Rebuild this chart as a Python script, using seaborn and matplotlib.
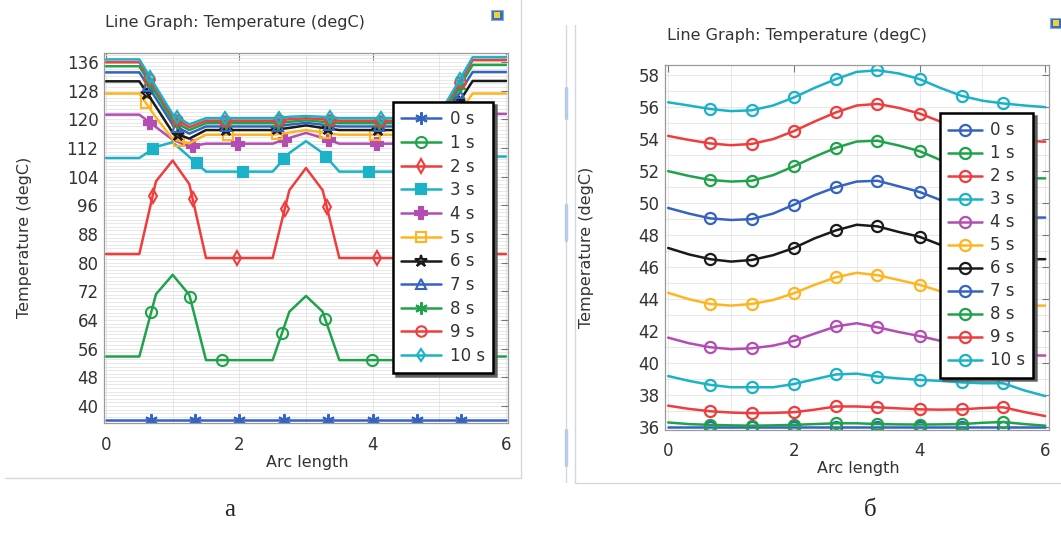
import numpy as np
import matplotlib
matplotlib.use('Agg')
import matplotlib.pyplot as plt
from matplotlib.lines import Line2D
from matplotlib.patches import Rectangle
from matplotlib.ticker import MultipleLocator
import seaborn as sns

sns.set_style('white')
plt.rcParams['font.family'] = ['DejaVu Sans']

labels = ['0 s', '1 s', '2 s', '3 s', '4 s', '5 s', '6 s', '7 s', '8 s', '9 s', '10 s']
colors = ['#3563c2', '#1fa34a', '#f03c3c', '#1ab2c6', '#b34db3', '#ffb51f', '#1a1a1a',
          '#3563c2', '#1fa34a', '#f03c3c', '#1ab2c6']

# ---- panel a: line vertices along arc length
xa = [0, 0.5, 0.75, 1.0, 1.25, 1.5, 2.5, 2.75, 3.0, 3.25, 3.5, 4.5, 4.75, 5.0, 5.25, 5.5, 6.0]
ta_0 = [36.0] * 17
ta_1 = [53.8, 53.8, 71.2, 76.6, 71.0, 52.8, 52.8, 66.3, 70.7, 66.3, 52.8, 52.8, 71.0, 76.6, 71.2, 53.8, 53.8]
ta_2 = [82.4, 82.4, 102.7, 108.5, 101.9, 81.3, 81.3, 100.2, 106.4, 100.2, 81.3, 81.3, 101.9, 108.5, 102.7, 82.4, 82.4]
ta_3 = [109.2, 109.2, 112.3, 113.6, 109.5, 105.4, 105.4, 110.6, 113.9, 110.6, 105.4, 105.4, 109.5, 113.6, 112.3, 109.6, 109.6]
ta_4 = [121.3, 121.3, 117.8, 114.3, 112.4, 113.2, 113.2, 114.8, 116.2, 114.8, 113.2, 113.2, 112.4, 114.4, 118.0, 121.5, 121.5]
ta_5 = [127.2, 127.2, 120.5, 114.5, 113.3, 115.7, 115.7, 116.3, 117.0, 116.3, 115.7, 115.7, 113.3, 114.5, 120.5, 127.2, 127.2]
ta_6 = [130.6, 130.6, 123.5, 116.3, 114.6, 117.0, 117.0, 117.6, 118.3, 117.6, 117.0, 117.0, 114.6, 116.3, 123.5, 130.7, 130.7]
ta_7 = [133.1, 133.1, 125.8, 118.5, 116.0, 118.0, 118.0, 118.5, 119.0, 118.5, 118.0, 118.0, 116.0, 118.5, 125.8, 133.2, 133.2]
ta_8 = [134.8, 134.8, 127.2, 119.6, 117.0, 118.9, 118.9, 119.3, 119.7, 119.3, 118.9, 118.9, 117.0, 119.6, 127.4, 135.2, 135.2]
ta_9 = [135.9, 135.9, 128.3, 120.6, 117.8, 119.6, 119.6, 120.0, 120.3, 120.0, 119.6, 119.6, 117.8, 120.6, 128.5, 136.5, 136.5]
ta_10 = [136.7, 136.7, 129.0, 121.4, 118.6, 120.3, 120.3, 120.7, 120.9, 120.7, 120.3, 120.3, 118.6, 121.4, 129.3, 137.3, 137.3]

# marker positions (arc length)
ma_0 = [0.67, 1.33, 2.0, 2.67, 3.33, 4.0, 4.67, 5.33]
ma_1 = [0.68, 1.26, 1.74, 2.64, 3.29, 3.99, 4.72, 5.3]
ma_2 = [0.7, 1.3, 1.96, 2.68, 3.31, 4.06, 4.7, 5.3]
ma_3 = [0.71, 1.36, 2.05, 2.67, 3.3, 3.94, 4.64, 5.3]
ma_4 = [0.66, 1.3, 1.98, 2.68, 3.35, 4.07, 4.7, 5.34]
ma_5 = [0.6, 1.1, 1.83, 2.56, 3.29, 4.04, 4.9, 5.32]
ma_6 = [0.62, 1.08, 1.8, 2.57, 3.33, 4.08, 4.92, 5.3]
ma_7 = [0.63, 1.07, 1.8, 2.58, 3.34, 4.1, 4.93, 5.3]
ma_8 = [0.64, 1.06, 1.8, 2.58, 3.35, 4.1, 4.94, 5.31]
ma_9 = [0.65, 1.06, 1.79, 2.59, 3.36, 4.11, 4.94, 5.31]
ma_10 = [0.66, 1.06, 1.79, 2.59, 3.36, 4.12, 4.94, 5.31]

# ---- panel b
xb = [0, 0.33, 0.67, 1.0, 1.33, 1.67, 2.0, 2.33, 2.67, 3.0, 3.33, 3.67, 4.0, 4.33, 4.67, 5.0, 5.33, 5.67, 6.0]
tb_0 = [36.0] * 19
tb_1 = [36.3, 36.2, 36.15, 36.12, 36.1, 36.12, 36.15, 36.2, 36.25, 36.25, 36.2, 36.18, 36.17, 36.18, 36.2, 36.28, 36.33, 36.2, 36.1]
tb_2 = [37.35, 37.15, 37.0, 36.92, 36.88, 36.9, 36.94, 37.1, 37.3, 37.3, 37.25, 37.18, 37.12, 37.1, 37.12, 37.2, 37.25, 36.95, 36.7]
tb_3 = [39.2, 38.9, 38.65, 38.5, 38.5, 38.5, 38.7, 39.0, 39.3, 39.35, 39.17, 39.05, 38.96, 38.9, 38.8, 38.75, 38.75, 38.3, 37.95]
tb_4 = [41.6, 41.25, 41.0, 40.88, 40.93, 41.1, 41.4, 41.85, 42.3, 42.5, 42.25, 41.95, 41.7, 41.4, 41.0, 40.7, 40.55, 40.5, 40.48]
tb_5 = [44.4, 44.0, 43.7, 43.6, 43.7, 43.95, 44.37, 44.9, 45.37, 45.65, 45.5, 45.2, 44.9, 44.5, 44.1, 43.8, 43.65, 43.6, 43.6]
tb_6 = [47.2, 46.8, 46.5, 46.35, 46.45, 46.75, 47.2, 47.8, 48.3, 48.65, 48.55, 48.2, 47.9, 47.4, 47.0, 46.7, 46.55, 46.5, 46.5]
tb_7 = [49.7, 49.35, 49.05, 48.95, 49.0, 49.35, 49.9, 50.5, 51.0, 51.35, 51.4, 51.05, 50.7, 50.2, 49.7, 49.35, 49.15, 49.1, 49.1]
tb_8 = [52.0, 51.7, 51.45, 51.35, 51.4, 51.75, 52.3, 52.9, 53.46, 53.85, 53.9, 53.6, 53.25, 52.7, 52.2, 51.8, 51.6, 51.55, 51.55]
tb_9 = [54.2, 53.95, 53.73, 53.62, 53.7, 54.0, 54.5, 55.1, 55.67, 56.1, 56.2, 55.95, 55.6, 55.1, 54.6, 54.2, 54.0, 53.9, 53.84]
tb_10 = [56.3, 56.1, 55.88, 55.75, 55.8, 56.1, 56.6, 57.2, 57.75, 58.2, 58.3, 58.1, 57.75, 57.2, 56.7, 56.4, 56.23, 56.1, 56.0]
mb = [0.67, 1.33, 2.0, 2.67, 3.33, 4.0, 4.67, 5.33]

ta = [ta_0, ta_1, ta_2, ta_3, ta_4, ta_5, ta_6, ta_7, ta_8, ta_9, ta_10]
ma = [ma_0, ma_1, ma_2, ma_3, ma_4, ma_5, ma_6, ma_7, ma_8, ma_9, ma_10]
tb = [tb_0, tb_1, tb_2, tb_3, tb_4, tb_5, tb_6, tb_7, tb_8, tb_9, tb_10]

# marker style per series in panel a: (marker, filled, size)
star6 = (6, 2, 0)
marks_a = [(star6, True, 9), ('o', False, 8), ('d', False, 7), ('s', True, 6.5), ('P', True, 8),
           ('s', False, 7), ('*', False, 9), ('^', False, 7), (star6, True, 9), ('o', False, 7.5), ('d', False, 6)]

W, H = 1061, 545
fig = plt.figure(figsize=(W / 100, H / 100), dpi=100)


def fx(px):
    return px / W


def fy(py):
    return 1 - py / H


ax1 = fig.add_axes([fx(104), fy(423), fx(508 - 104), (423 - 53) / H])
ax2 = fig.add_axes([fx(665), fy(430), fx(1049 - 665), (430 - 65) / H])


def style_axes(ax, ystep, xlim, ylim):
    ax.set_xlim(*xlim)
    ax.set_ylim(*ylim)
    ax.xaxis.set_major_locator(MultipleLocator(2))
    ax.xaxis.set_minor_locator(MultipleLocator(1))
    ax.yaxis.set_major_locator(MultipleLocator(ystep))
    ax.yaxis.set_minor_locator(MultipleLocator(1))
    ax.grid(True, which='both', color='#e4e4e4', lw=0.6)
    ax.set_axisbelow(True)
    ax.tick_params(which='major', direction='in', length=5, width=0.8, color='#777777',
                   top=True, right=True, labelsize=12, labelcolor='#333333')
    ax.tick_params(which='minor', length=0)
    ax.tick_params(axis='x', pad=9)
    ax.tick_params(axis='y', pad=4)
    for s in ax.spines.values():
        s.set_color('#9a9a9a')
        s.set_linewidth(0.9)
    ax.set_xlabel('')
    ax.set_ylabel('')


handles_a = []
for i in range(11):
    sns.lineplot(x=xa, y=ta[i], ax=ax1, color=colors[i], lw=1.8, estimator=None, sort=False, legend=False)
    m, filled, ms = marks_a[i]
    my = np.interp(ma[i], xa, ta[i])
    fc = colors[i] if filled else 'none'
    ax1.plot(ma[i], my, ls='none', marker=m, ms=ms, mfc=fc, mec=colors[i], mew=1.5)
    handles_a.append(Line2D([], [], color=colors[i], lw=1.8, marker=m, ms=ms, mfc=fc, mec=colors[i], mew=1.5))
style_axes(ax1, 8, (-0.03, 6.03), (35.25, 138.5))
ax1.set_yticks(np.arange(40, 137, 8))

handles_b = []
for i in range(11):
    sns.lineplot(x=xb, y=tb[i], ax=ax2, color=colors[i], lw=1.8, estimator=None, sort=False, legend=False)
    my = np.interp(mb, xb, tb[i])
    ax2.plot(mb, my, ls='none', marker='o', ms=8, mfc='none', mec=colors[i], mew=1.6)
    handles_b.append(Line2D([], [], color=colors[i], lw=1.8, marker='o', ms=8, mfc='none', mec=colors[i], mew=1.6))
style_axes(ax2, 2, (-0.05, 6.06), (35.83, 58.63))

leg_kw = dict(loc='upper left', bbox_transform=fig.transFigure, borderaxespad=0, frameon=True,
              fancybox=False, shadow={'color': '0.35', 'alpha': 0.9}, framealpha=1, fontsize=12,
              handletextpad=0.5, borderpad=0.5, labelcolor='#333333')
leg1 = ax1.legend(handles_a, labels, bbox_to_anchor=(fx(393), fy(102)),
                  handlelength=2.4, labelspacing=0.34, **leg_kw)
leg2 = ax2.legend(handles_b, labels, bbox_to_anchor=(fx(940), fy(113)),
                  handlelength=2.0, labelspacing=0.3, **leg_kw)
for lg in (leg1, leg2):
    lg.get_frame().set_edgecolor('black')
    lg.get_frame().set_linewidth(1.8)

# titles and axis labels
fig.text(fx(105), fy(23), 'Line Graph: Temperature (degC)', fontsize=11.5, color='#333333', va='center')
fig.text(fx(667), fy(35), 'Line Graph: Temperature (degC)', fontsize=11.5, color='#333333', va='center')
fig.text(fx(25), fy(237), 'Temperature (degC)', rotation=90, fontsize=11.5, color='#333333', ha='center', va='center')
fig.text(fx(587), fy(247), 'Temperature (degC)', rotation=90, fontsize=11.5, color='#333333', ha='center', va='center')
fig.text(fx(307), fy(462), 'Arc length', fontsize=11.5, color='#333333', ha='center', va='center')
fig.text(fx(858), fy(468), 'Arc length', fontsize=11.5, color='#333333', ha='center', va='center')
fig.text(fx(230), fy(510), 'а', fontsize=18, family='Liberation Serif', ha='center', va='center')
fig.text(fx(870), fy(510), 'б', fontsize=18, family='Liberation Serif', ha='center', va='center')

# panel frames of the screenshot
fr = dict(color='#d4d8de', lw=1.0, transform=fig.transFigure)
fig.add_artist(Line2D([fx(521), fx(521)], [fy(0), fy(478)], **fr))
fig.add_artist(Line2D([fx(5), fx(521)], [fy(478), fy(478)], **fr))
fig.add_artist(Line2D([fx(566), fx(566)], [fy(25), fy(482)], **fr))
fig.add_artist(Line2D([fx(575), fx(575)], [fy(25), fy(482)], **fr))
fig.add_artist(Line2D([fx(575), fx(1061)], [fy(483), fy(483)], **fr))
for y0, y1 in [(88, 118), (205, 240), (430, 465)]:
    fig.add_artist(Line2D([fx(566), fx(566)], [fy(y0), fy(y1)], color='#b9cce6', lw=2.5, transform=fig.transFigure))

# little window icons
for x0, y0 in [(491, 20), (1050, 28)]:
    fig.add_artist(Rectangle((fx(x0), fy(y0)), fx(12), 10 / H, transform=fig.transFigure,
                             facecolor='#2f6fd0', edgecolor='#9ab', lw=0.8))
    fig.add_artist(Rectangle((fx(x0 + 3), fy(y0 - 2)), fx(6), 6 / H, transform=fig.transFigure,
                             facecolor='#f5d030', edgecolor='none'))

fig.savefig('out.png', dpi=100)
